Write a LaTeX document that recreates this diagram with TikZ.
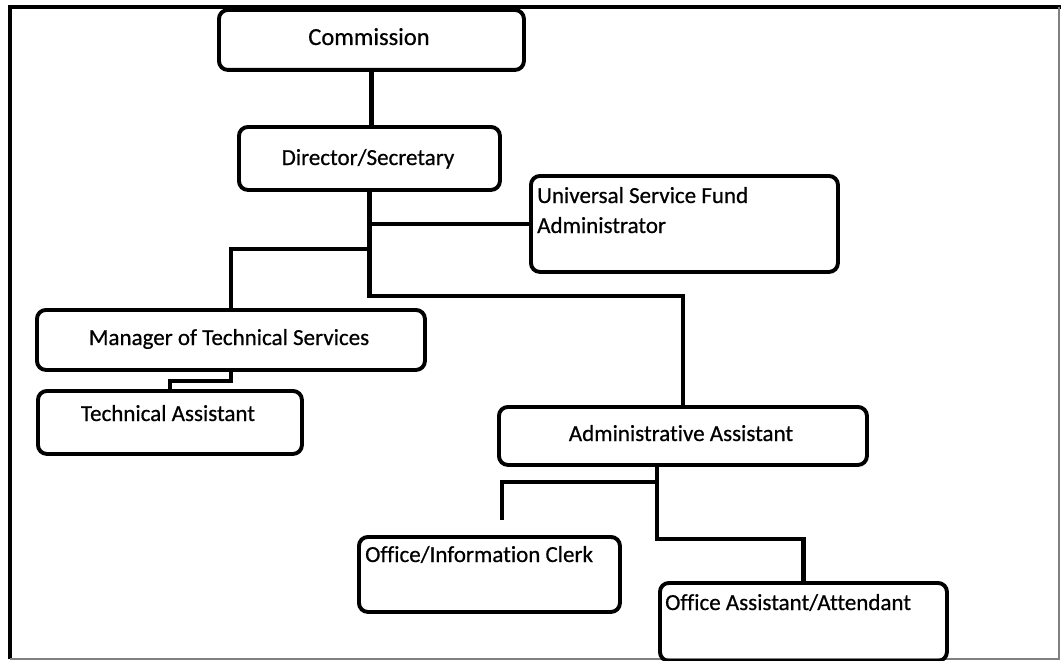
\documentclass[tikz,border=0pt]{standalone}
\usepackage{fontspec}
\setmainfont[RawFeature={-liga,-calt}, FakeBold=0.6]{Carlito}
\begin{document}
\begin{tikzpicture}[x=1pt,y=-1pt,
  box/.style={draw, line width=3.9pt, rounded corners=9pt, anchor=north west, inner sep=0pt},
  conn/.style={line width=4.3pt},
  txt/.style={inner sep=0pt, font=\fontsize{23}{30}\selectfont}]
\useasboundingbox (0,0) rectangle (1061,661);
% frame
\draw[line width=3.3pt] (10,659) -- (10,7) -- (1061,7);
\draw[gray, line width=1.5pt] (1059,7) -- (1059,659) -- (10,659);
% boxes
\node[box, minimum width=305pt, minimum height=60pt] (comm) at (217,8) {};
\node[box, minimum width=261pt, minimum height=63pt] (dir) at (237,125) {};
\node[box, minimum width=307pt, minimum height=96pt] (usf) at (529,174) {};
\node[box, minimum width=388pt, minimum height=60pt] (mgr) at (35,308) {};
\node[box, minimum width=264pt, minimum height=63pt] (ta) at (36,389) {};
\node[box, minimum width=368pt, minimum height=58pt] (adm) at (497,405) {};
\node[box, minimum width=261pt, minimum height=75pt] (clerk) at (357,535) {};
\node[box, minimum width=287pt, minimum height=78pt] (oa) at (658,581) {};
% texts
\node[txt, anchor=base, font=\fontsize{24.5}{30}\selectfont] (commT) at (369,45) {Commission};
\node[txt, anchor=base] (dirT) at (368,165) {Director/Secretary};
\node[txt, anchor=base west] (usfT1) at (537,203) {Universal Service Fund};
\node[txt, anchor=base west] (usfT2) at (537,233) {Administrator};
\node[txt, anchor=base] (mgrT) at (229,345) {Manager of Technical Services};
\node[txt, anchor=base] (taT) at (168,421) {Technical Assistant};
\node[txt, anchor=base] (admT) at (681,441) {Administrative Assistant};
\node[txt, anchor=base west] (clerkT) at (365,562) {Office/Information Clerk};
\node[txt, anchor=base west] (oaT) at (665,610) {Office Assistant/Attendant};
% connector helpers
\coordinate (j1) at (0,296);
\coordinate (j2) at (0,249);
\coordinate (ab) at (657,463);
\coordinate (hb) at (0,482);
\coordinate (oh) at (0,539);
\coordinate (cl) at (502,520);
% connectors
\draw[conn] (comm.south) -- (comm.south |- dir.north);
\draw[conn] (dir.south) -- (dir.south |- j1) -| (adm.north);
\draw[conn] (dir.south |- usf.west) -- (usf.west);
\draw[conn] (dir.south |- j2) -| (mgr.north);
\draw[conn] (mgr.south) -- ++(0,9) -| (ta.north);
\draw[conn] (ab) -- (ab |- hb) -| (cl);
\draw[conn] (ab |- hb) -- (ab |- oh) -| (oa.north);
\end{tikzpicture}
\end{document}
